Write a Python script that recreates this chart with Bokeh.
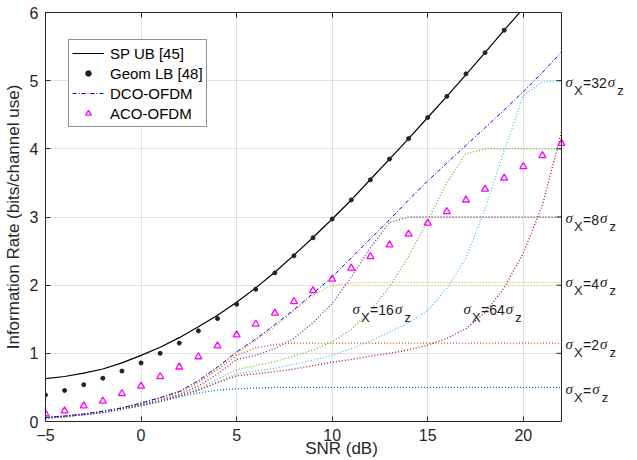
import math
from bokeh.plotting import figure
from bokeh.models import Range1d, FixedTicker, LinearAxis, Label, Span, BoxAnnotation
from bokeh.embed import file_html
from bokeh.resources import INLINE

# ---------------- data ----------------
snr = list(range(-5, 23))
sp_ub = [0.63, 0.66, 0.71, 0.77, 0.86, 0.97, 1.09, 1.23, 1.39, 1.56, 1.75, 1.96, 2.19, 2.44,
         2.70, 2.97, 3.25, 3.55, 3.85, 4.15, 4.46, 4.77, 5.09, 5.41, 5.74, 6.06, 6.39, 6.72]
geom_snr = list(range(-5, 20))
geom_lb = [0.39, 0.455, 0.54, 0.635, 0.74, 0.86, 1.0, 1.15, 1.33, 1.51, 1.72, 1.94, 2.18, 2.43,
           2.695, 2.97, 3.25, 3.545, 3.85, 4.15, 4.46, 4.77, 5.1, 5.41, 5.74]
dco = [0.06, 0.08, 0.11, 0.15, 0.2, 0.27, 0.35, 0.44, 0.6, 0.8, 1.02, 1.21, 1.42, 1.64,
       1.88, 2.12, 2.4, 2.68, 2.96, 3.25, 3.53, 3.79, 4.05, 4.31, 4.57, 4.84, 5.12, 5.42]
aco = [0.113, 0.157, 0.23, 0.30, 0.41, 0.52, 0.66, 0.80, 0.95, 1.11, 1.27, 1.43, 1.59, 1.76,
       1.92, 2.09, 2.25, 2.42, 2.59, 2.75, 2.91, 3.08, 3.25, 3.41, 3.57, 3.74, 3.90, 4.08]

s1 = [0.05, 0.07, 0.1, 0.13, 0.18, 0.23, 0.29, 0.36, 0.42, 0.46, 0.48, 0.49] + [0.5] * 16
s2 = [0.06, 0.08, 0.11, 0.15, 0.2, 0.27, 0.35, 0.43, 0.57, 0.76, 0.97, 1.08, 1.13] + [1.15] * 15
s4 = [0.06, 0.08, 0.11, 0.15, 0.2, 0.27, 0.35, 0.44, 0.59, 0.79, 1.0, 1.19, 1.39, 1.62,
      1.85, 2.0, 2.03] + [2.04] * 11
s8 = [0.055, 0.075, 0.105, 0.14, 0.19, 0.25, 0.32, 0.4, 0.52, 0.7, 0.91, 0.97, 1.07, 1.22,
      1.45, 1.73, 2.12, 2.55, 2.92] + [3.0] * 9
s16 = [0.055, 0.075, 0.1, 0.14, 0.18, 0.24, 0.31, 0.38, 0.48, 0.62, 0.76, 0.82, 0.88, 0.96,
       1.05, 1.17, 1.35, 1.62, 1.98, 2.42, 2.95, 3.5, 3.93] + [4.0] * 5
s32 = [0.05, 0.07, 0.1, 0.13, 0.18, 0.24, 0.3, 0.37, 0.46, 0.58, 0.7, 0.74, 0.78, 0.84,
       0.9, 0.97, 1.07, 1.18, 1.31, 1.45, 1.63, 1.95, 2.4, 3.12, 3.97, 4.78, 4.98, 5.0]
s64 = [0.05, 0.07, 0.1, 0.13, 0.18, 0.24, 0.3, 0.37, 0.46, 0.57, 0.67, 0.7, 0.73, 0.77,
       0.82, 0.87, 0.91, 0.96, 1.0, 1.05, 1.12, 1.22, 1.36, 1.6, 1.96, 2.47, 3.17, 4.25]

sigma_curves = [s1, s2, s4, s8, s16, s32, s64]
sigma_colors = ["#0072BD", "#D95319", "#EDB120", "#7E2F8E", "#77AC30", "#4DBEEE", "#A2142F"]

x_min, x_max = -5, 22
y_min, y_max = 0, 6
x_ticks = [-5, 0, 5, 10, 15, 20]
y_ticks = [0, 1, 2, 3, 4, 5, 6]

# right-edge labels: (multiplier text, baseline value)
right_labels = [("32", 4.96), ("8", 2.96), ("4", 2.02), ("2", 1.12), ("", 0.45)]
# inner labels: (multiplier text, snr, baseline value)
inner_labels = [("16", 11.07, 1.63), ("64", 16.87, 1.63)]

# ---------------- layout ----------------
W, H = 637, 460
BOX_L, BOX_R = 45, 561          # plot box edges in pixels
MB_T, MB_B = 12, 39
FH = H - MB_T - MB_B
PXD = (BOX_R - BOX_L) / (x_max - x_min)      # pixels per dB
x_end = x_max + (W - BOX_R) / PXD             # frame extends to the right for the labels
AX = "#262626"
SANS = "Liberation Sans"

p = figure(width=W, height=H, output_backend="svg", toolbar_location=None,
           x_range=Range1d(x_min, x_end), y_range=Range1d(y_min, y_max),
           min_border_left=BOX_L, min_border_right=0,
           min_border_top=MB_T, min_border_bottom=MB_B)
p.background_fill_color = "white"
p.border_fill_color = "white"
p.outline_line_color = None

for ax, ticks in ((p.xaxis[0], x_ticks), (p.yaxis[0], y_ticks)):
    ax.ticker = FixedTicker(ticks=ticks)
    ax.major_tick_in = 5
    ax.major_tick_out = 0
    ax.minor_tick_line_color = None
    ax.axis_line_color = AX
    ax.major_tick_line_color = AX
    ax.major_label_text_font = SANS
    ax.major_label_text_font_size = "16px"
    ax.major_label_text_color = AX
    ax.axis_label_text_font = SANS
    ax.axis_label_text_font_size = "17px"
    ax.axis_label_text_font_style = "normal"
    ax.axis_label_text_color = AX

p.xaxis.bounds = (x_min, x_max)
p.xaxis.axis_label = "SNR (dB)"
p.xaxis.major_label_standoff = 7
p.xaxis.axis_label_standoff = -5
p.yaxis.axis_label = "Information Rate (bits/channel use)"
p.yaxis.major_label_standoff = 7
p.yaxis.axis_label_standoff = 4

top_axis = LinearAxis(ticker=FixedTicker(ticks=x_ticks), bounds=(x_min, x_max),
                      major_tick_in=5, major_tick_out=0, minor_tick_line_color=None,
                      axis_line_color=AX, major_tick_line_color=AX,
                      major_label_text_color=None, major_label_standoff=0)
p.add_layout(top_axis, "above")

p.xgrid.ticker = FixedTicker(ticks=x_ticks)
p.ygrid.ticker = FixedTicker(ticks=y_ticks)
p.grid.grid_line_color = "#e0e0e0"
p.grid.grid_line_width = 1

# white area right of the plot box (hides grid lines there)
p.add_layout(BoxAnnotation(left=x_max, fill_color="white", fill_alpha=1.0,
                           line_color=None, level="underlay"))

# ---------------- series ----------------
for ys, c in zip(sigma_curves, sigma_colors):
    p.line(snr, ys, line_color=c, line_width=1.3, line_dash="1 2")

p.line(snr, dco, line_color="#0000FF", line_width=1, line_dash="4 2 1 2",
       legend_label="DCO-OFDM")
p.line(snr, sp_ub, line_color="#000000", line_width=1.2, legend_label="SP UB [45]")
p.scatter(geom_snr, geom_lb, marker="circle", size=4, fill_color="#222222",
          line_color="#222222", legend_label="Geom LB [48]")
p.scatter(snr, aco, marker="triangle", size=7, fill_color=None, line_color="#FF00FF",
          line_width=1.3, legend_label="ACO-OFDM")

# right edge of the plot box with inward ticks
p.add_layout(Span(location=x_max, dimension="height", line_color=AX, line_width=1))
p.ray(x=[x_max] * len(y_ticks), y=y_ticks, length=5, length_units="screen",
      angle=math.pi, line_color=AX, line_width=1)

# legend order: SP UB, Geom LB, DCO, ACO
lg = p.legend[0]
order = ["SP UB [45]", "Geom LB [48]", "DCO-OFDM", "ACO-OFDM"]
lg.items = sorted(lg.items, key=lambda it: order.index(it.label["value"]))
lg.location = (23, FH - 29 - 86)
lg.padding = 3
lg.spacing = 0
lg.margin = 0
lg.label_height = 20
lg.glyph_height = 14
lg.glyph_width = 32
lg.label_standoff = 6
lg.label_text_font = SANS
lg.label_text_font_size = "15px"
lg.label_text_color = "#000000"
lg.border_line_color = AX
lg.border_line_width = 1
lg.background_fill_alpha = 1

# ---------------- sigma labels ----------------
px_per_unit = FH / (y_max - y_min)


def sigma_label(xd, yd, num, x0):
    eq = "=" + num
    w = 8.2 + 7.8 * len(num) + 1
    sub = 7.0 / px_per_unit
    parts = [("σ", 0, 0.02, "Liberation Serif", "italic", "15px"),
             ("X", 8.5, -sub, SANS, "normal", "13px"),
             (eq, 17.5, 0, SANS, "normal", "14px"),
             ("σ", 17.5 + w, 0.02, "Liberation Serif", "italic", "15px"),
             ("z", 17.5 + w + 9.5, -sub, SANS, "normal", "13px")]
    for t, dx, dy, f, st, fs in parts:
        p.add_layout(Label(x=xd, y=yd + dy, x_offset=x0 + dx, text=t, text_font=f,
                           text_font_style=st, text_font_size=fs, text_color="#1a1a1a",
                           text_baseline="alphabetic", text_align="left"))


for num, yv in right_labels:
    sigma_label(x_max, yv, num, 4)
for num, xv, yv in inner_labels:
    sigma_label(xv, yv, num, 0)

open("out.html", "w").write(file_html(p, INLINE))
